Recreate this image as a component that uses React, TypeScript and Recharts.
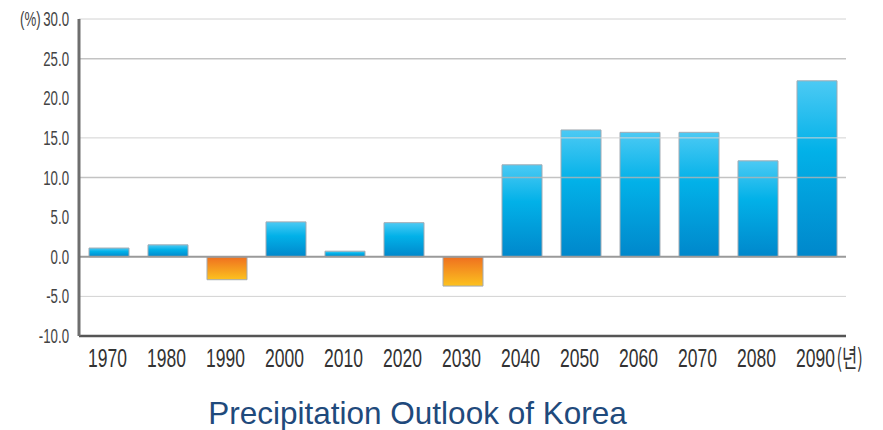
import React from 'react';
import {
  BarChart,
  Bar,
  Cell,
  XAxis,
  YAxis,
  ReferenceLine,
} from 'recharts';

const years = ['1970', '1980', '1990', '2000', '2010', '2020', '2030', '2040', '2050', '2060', '2070', '2080', '2090'];
const changes = [1.1, 1.5, -2.9, 4.4, 0.7, 4.3, -3.7, 11.6, 16.0, 15.7, 15.7, 12.1, 22.2];
const yTicks = [-10, -5, 0, 5, 10, 15, 20, 25, 30];
const darkGridValues = [25, 10];
const lightGridValues = [30, 15, -5];

const data = years.map((year, i) => ({ year, value: changes[i] }));

const FONT = '"Liberation Sans", Arial, sans-serif';

const YTick = ({ x, y, payload }: any) => {
  const v = payload.value as number;
  return (
    <g>
      <text
        transform={`translate(${x - 10},${y + 7}) scale(0.68,1)`}
        textAnchor="end"
        fontFamily={FONT}
        fontSize={19.5}
        fill="#444"
      >
        {v.toFixed(1)}
      </text>
      {v === 30 && (
        <text
          transform={`translate(20,${y + 7}) scale(0.68,1)`}
          textAnchor="start"
          fontFamily={FONT}
          fontSize={19.5}
          fill="#444"
        >
          (%)
        </text>
      )}
    </g>
  );
};

const XTick = ({ x, y, payload, index }: any) => {
  return (
    <g>
      <text
        transform={`translate(${x - 1},${y + 30.5}) scale(0.66,1)`}
        textAnchor="middle"
        fontFamily={FONT}
        fontSize={26.5}
        fill="#333"
      >
        {payload.value}
      </text>
      {index === years.length - 1 && (
        <text
          transform={`translate(${x + 20},${y + 30.5}) scale(0.66,1)`}
          textAnchor="start"
          fontFamily='"Noto Sans CJK KR", sans-serif'
          fontSize={25}
          fill="#333"
        >
          (년)
        </text>
      )}
    </g>
  );
};

const App: React.FC = () => {
  return (
    <div style={{ position: 'relative', width: 883, height: 430, background: '#fff' }}>
      <style>{`body { margin: 0; }`}</style>
      <BarChart
        width={883}
        height={385}
        data={data}
        margin={{ top: 19, right: 37, left: 0, bottom: 0 }}
      >
        <defs>
          <linearGradient id="blueFill" x1="0" y1="0" x2="0" y2="1">
            <stop offset="0%" stopColor="#4ccaf4" />
            <stop offset="40%" stopColor="#02b1e8" />
            <stop offset="100%" stopColor="#0087cb" />
          </linearGradient>
          <linearGradient id="orangeFill" x1="0" y1="0" x2="0" y2="1">
            <stop offset="0%" stopColor="#ef6f1f" />
            <stop offset="100%" stopColor="#fcc21f" />
          </linearGradient>
        </defs>
        {lightGridValues.map((v) => (
          <ReferenceLine key={`l${v}`} y={v} stroke="#d2d2d2" strokeWidth={1} />
        ))}
        {darkGridValues.map((v) => (
          <ReferenceLine key={`d${v}`} y={v} stroke="#b4b4b4" strokeWidth={1.5} strokeOpacity={0.8} />
        ))}
        <XAxis
          dataKey="year"
          axisLine={{ stroke: '#555', strokeWidth: 2.5 }}
          tickLine={false}
          tickSize={0}
          tickMargin={0}
          tick={<XTick />}
          height={49}
          interval={0}
        />
        <YAxis
          domain={[-10, 30]}
          ticks={yTicks}
          axisLine={{ stroke: '#6e6e6e', strokeWidth: 3 }}
          tickLine={false}
          tickSize={0}
          tickMargin={0}
          tick={<YTick />}
          width={79}
          interval={0}
        />
        <Bar
          dataKey="value"
          barSize={40}
          stroke="#a3abb3"
          strokeWidth={1}
          isAnimationActive={false}
        >
          {data.map((d) => (
            <Cell key={d.year} fill={d.value < 0 ? 'url(#orangeFill)' : 'url(#blueFill)'} />
          ))}
        </Bar>
        <ReferenceLine y={0} stroke="#9a9a9a" strokeWidth={2} />
      </BarChart>
      <div
        style={{
          position: 'absolute',
          left: 0,
          width: 835,
          top: 398,
          textAlign: 'center',
          fontFamily: FONT,
          fontSize: 31.5,
          lineHeight: '31.5px',
          color: '#1f4a7c',
          whiteSpace: 'nowrap',
        }}
      >
        Precipitation Outlook of Korea
      </div>
    </div>
  );
};

export default App;
